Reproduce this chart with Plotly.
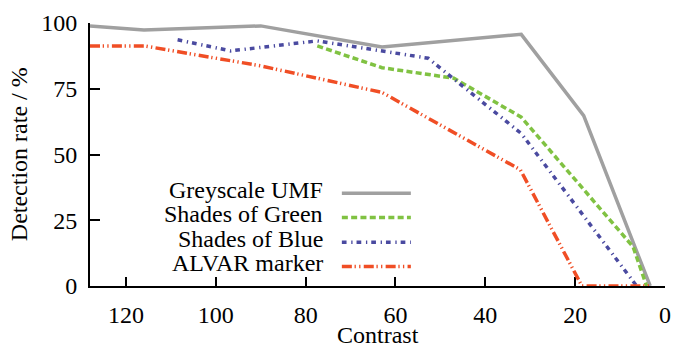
import plotly.graph_objects as go

# ---- data ----
grey_x = [128, 116, 90, 63, 32, 18.1, 3.3]
grey_y = [98.9, 97.3, 98.9, 90.9, 95.7, 64.8, 0]

green_x = [77.4, 63, 47, 32, 7.1, 4.1]
green_y = [91.3, 83.0, 79.0, 64.2, 14.9, 0]

blue_x = [108.5, 96.7, 77.4, 63, 52.7, 32, 6.3]
blue_y = [93.6, 89.4, 93.2, 89.4, 86.6, 58.0, 0]

red_x = [128, 116, 90, 63, 32.2, 18.5, 3.3]
red_y = [91.3, 91.3, 83.7, 73.6, 44.2, 0, 0]

series_names = ["Greyscale UMF", "Shades of Green", "Shades of Blue", "ALVAR marker"]
series_colors = ["#a0a0a0", "#80c242", "#4a4aa0", "#f04e25"]
series_dash = ["solid", "6px,3.3px", "4.7px,4.7px,1.3px,4px",
               "10px,2.7px,1.3px,3.3px,1.3px,3.3px"]
series_width = [3.5, 3.5, 3.5, 3.5]

x_ticks = [0, 20, 40, 60, 80, 100, 120]
y_ticks = [0, 25, 50, 75, 100]

x_title = "Contrast"
y_title = "Detection rate / %"

FONT = "Liberation Serif"

fig = go.Figure()
data = [(grey_x, grey_y), (green_x, green_y), (blue_x, blue_y), (red_x, red_y)]
for (xs, ys), name, col, dash, w in zip(data, series_names, series_colors,
                                         series_dash, series_width):
    fig.add_trace(go.Scatter(x=xs, y=ys, mode="lines", name=name,
                             line=dict(color=col, dash=dash, width=w),
                             showlegend=False))

# manual legend: text right-aligned, sample line to the right
leg_y = [0.365, 0.272, 0.178, 0.086]
for i, (name, col, dash, w) in enumerate(zip(series_names, series_colors,
                                             series_dash, series_width)):
    fig.add_annotation(x=0.4087, y=leg_y[i], xref="paper", yref="paper",
                       text=name, showarrow=False, xanchor="right",
                       yanchor="middle",
                       font=dict(family=FONT, size=24, color="black"))
    fig.add_shape(type="line", xref="paper", yref="paper",
                  x0=0.438, x1=0.558, y0=leg_y[i] - 0.012, y1=leg_y[i] - 0.012,
                  line=dict(color=col, dash=dash, width=w))

# axis titles as annotations for exact placement
fig.add_annotation(x=0.5, y=-0.186, xref="paper", yref="paper", text=x_title,
                   showarrow=False, xanchor="center", yanchor="middle",
                   font=dict(family=FONT, size=24, color="black"))
fig.add_annotation(x=-0.124, y=0.5, xref="paper", yref="paper", text=y_title,
                   showarrow=False, xanchor="center", yanchor="middle",
                   textangle=-90,
                   font=dict(family=FONT, size=24, color="black"))

fig.update_layout(
    width=673, height=345,
    margin=dict(l=90, r=8, t=23, b=59),
    paper_bgcolor="white", plot_bgcolor="white",
    font=dict(family=FONT, size=24, color="black"),
    xaxis=dict(range=[128, 0], tickvals=x_ticks, ticks="inside", ticklen=9,
               tickwidth=2, tickcolor="black", showline=True, linewidth=2,
               linecolor="black", showgrid=False, zeroline=False,
               layer="below traces", automargin=False, ticklabelstandoff=6),
    yaxis=dict(range=[0, 100], tickvals=y_ticks, ticks="inside", ticklen=10,
               tickwidth=2, tickcolor="black", showline=True, linewidth=2,
               linecolor="black", showgrid=False, zeroline=False,
               layer="below traces", automargin=False, ticklabelstandoff=6),
)

fig.write_html("out.html",
               config={"displayModeBar": False},
               post_script="document.body.style.margin='0px';"
                           "document.body.style.overflow='hidden';")
